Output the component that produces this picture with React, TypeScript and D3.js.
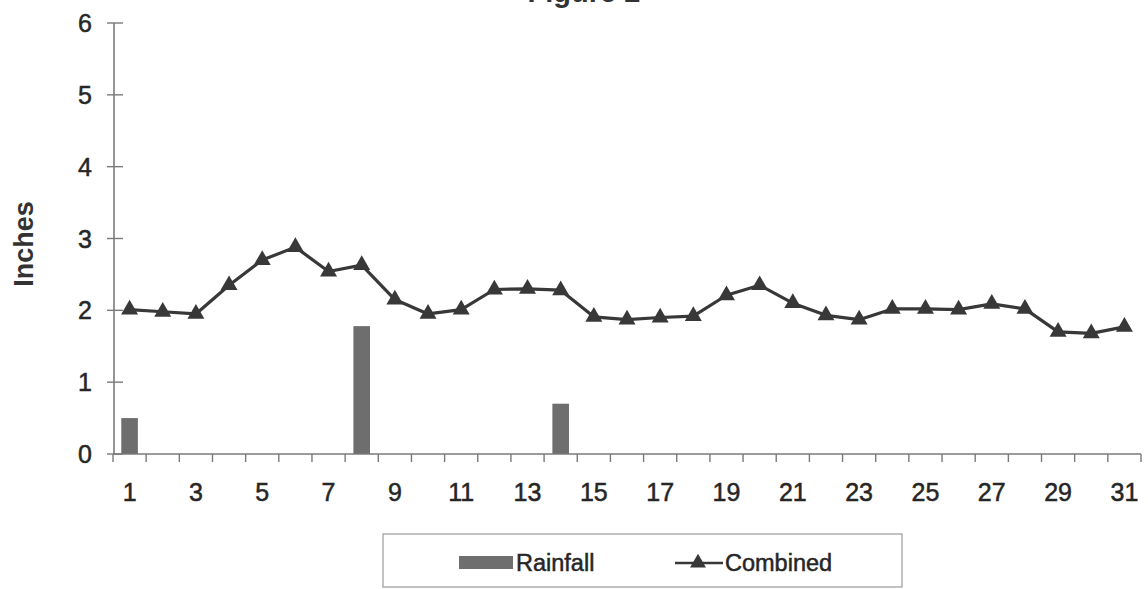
import React from "react";
import * as d3 from "d3";

const days: number[] = d3.range(1, 32);
const rainfall: number[] = [
  0.5, 0, 0, 0, 0, 0, 0, 1.78, 0, 0, 0, 0, 0, 0.7, 0, 0, 0, 0, 0, 0, 0, 0, 0, 0, 0, 0, 0, 0, 0, 0, 0,
];
const combined: number[] = [
  2.01, 1.98, 1.95, 2.35, 2.7, 2.88, 2.54, 2.63, 2.15, 1.95, 2.01, 2.29, 2.3, 2.28, 1.91, 1.87,
  1.9, 1.92, 2.21, 2.35, 2.1, 1.93, 1.87, 2.02, 2.02, 2.01, 2.09, 2.02, 1.7, 1.68, 1.77,
];
const yTicks: number[] = [0, 1, 2, 3, 4, 5, 6];
const xLabels: number[] = days.filter((d) => d % 2 === 1);

const W = 1148;
const H = 589;
const FONT = "Liberation Sans, Arial, sans-serif";

export default function App() {
  const x = d3.scaleBand<number>().domain(days).range([113, 1141]).paddingInner(0).paddingOuter(0);
  const y = d3.scaleLinear().domain([0, 6]).range([454, 23]);
  const bw = x.bandwidth();
  const cx = (d: number) => (x(d) as number) + bw / 2;
  const line = d3
    .line<number>()
    .x((_, i) => cx(days[i]))
    .y((v) => y(v));
  const tri = d3.symbol().type(d3.symbolTriangle).size(125)() as string;
  const legendTri = d3.symbol().type(d3.symbolTriangle).size(110)() as string;
  const axisColor = "#7a7a7a";
  const barColor = "#6e6e6e";
  const lineColor = "#383838";
  const textColor = "#262626";
  const boundaries = d3.range(0, days.length + 1).map((k) => 113 + k * bw);
  const thick = { stroke: textColor, strokeWidth: 0.5 };

  return (
    <svg width={W} height={H} style={{ position: "absolute", left: 0, top: 0, background: "#fff" }}>
      <rect x={0} y={0} width={W} height={H} fill="#fff" />
      {/* title (clipped at top, as in the reference) */}
      <text x={584} y={2} textAnchor="middle" fontFamily={FONT} fontWeight="bold" fontSize={29} fill="#333">
        Figure 2
      </text>
      {/* y axis label */}
      <text
        transform="translate(33,244) rotate(-90)"
        textAnchor="middle"
        fontFamily={FONT}
        fontWeight="bold"
        fontSize={27}
        fill="#333"
      >
        Inches
      </text>
      {/* y axis */}
      <line x1={114} x2={114} y1={y(6)} y2={y(0)} stroke={axisColor} strokeWidth={1.6} />
      {yTicks.map((t) => (
        <g key={t}>
          <line x1={107} x2={123} y1={y(t)} y2={y(t)} stroke={axisColor} strokeWidth={1.4} />
          <text
            x={92}
            y={y(t) + 9}
            textAnchor="end"
            fontFamily={FONT}
            fontSize={25}
            fill={textColor}
            {...thick}
          >
            {t}
          </text>
        </g>
      ))}
      {/* bars */}
      {days.map((d, i) =>
        rainfall[i] > 0 ? (
          <rect
            key={d}
            x={cx(d) - bw * 0.25}
            width={bw * 0.5}
            y={y(rainfall[i])}
            height={y(0) - y(rainfall[i])}
            fill={barColor}
          />
        ) : null
      )}
      {/* x axis */}
      <line x1={113} x2={1141} y1={y(0)} y2={y(0)} stroke={axisColor} strokeWidth={1.6} />
      {boundaries.map((bx, k) => (
        <line key={k} x1={bx} x2={bx} y1={y(0)} y2={y(0) + 8} stroke={axisColor} strokeWidth={1.4} />
      ))}
      {xLabels.map((d) => (
        <text key={d} x={cx(d)} y={501} textAnchor="middle" fontFamily={FONT} fontSize={25} fill={textColor} {...thick}>
          {d}
        </text>
      ))}
      {/* combined line */}
      <path d={line(combined) as string} fill="none" stroke={lineColor} strokeWidth={3.2} strokeLinejoin="round" />
      {combined.map((v, i) => (
        <path key={i} d={tri} transform={`translate(${cx(days[i])},${y(v)})`} fill={lineColor} />
      ))}
      {/* legend */}
      <rect x={383} y={534} width={519} height={53} fill="#fff" stroke="#9a9a9a" strokeWidth={1.2} />
      <rect x={459} y={556} width={54} height={13} fill={barColor} />
      <text x={516} y={571} fontFamily={FONT} fontSize={23.5} fill={textColor} {...thick}>
        Rainfall
      </text>
      <line x1={675} x2={723} y1={563} y2={563} stroke={lineColor} strokeWidth={2.5} />
      <path d={legendTri} transform="translate(698,563)" fill={lineColor} />
      <text x={725} y={571} fontFamily={FONT} fontSize={23.5} fill={textColor} {...thick}>
        Combined
      </text>
    </svg>
  );
}
